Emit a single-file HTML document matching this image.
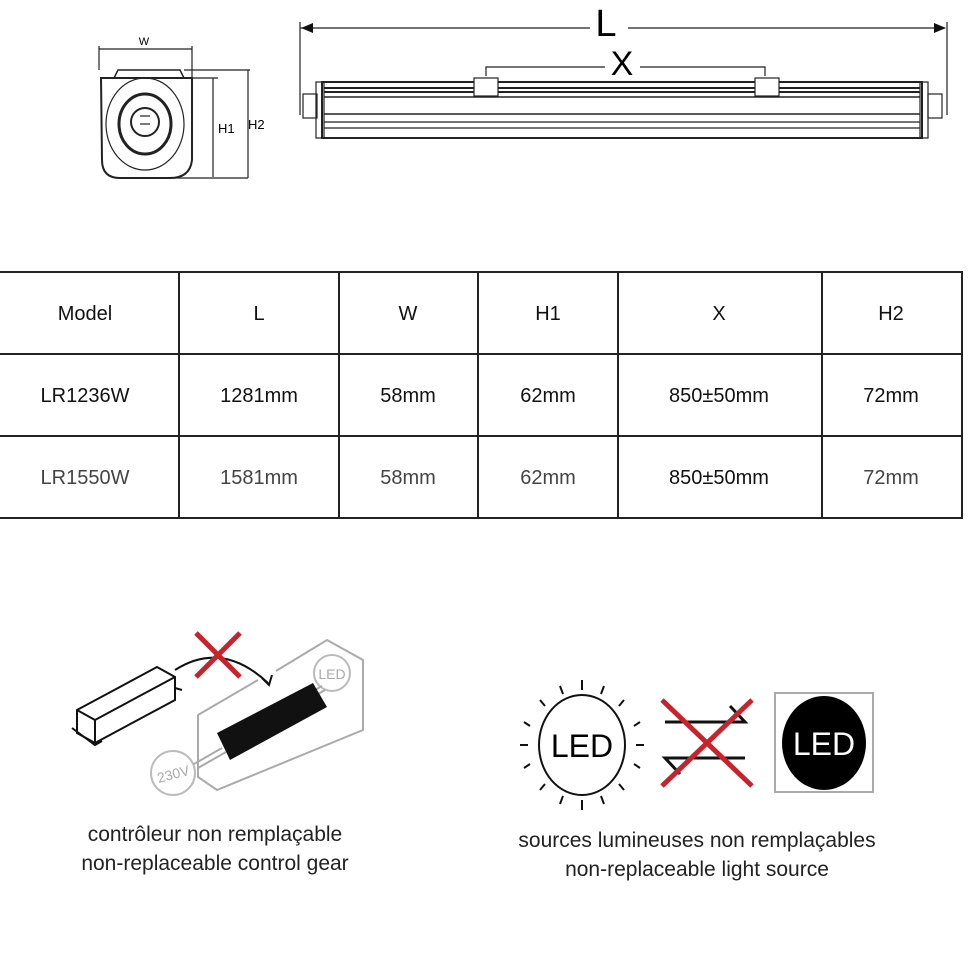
<!DOCTYPE html>
<html><head><meta charset="utf-8"><style>
body{margin:0;background:#fff}
svg{display:block}
text{font-family:"Liberation Sans",sans-serif}
</style></head><body>
<svg width="970" height="971" viewBox="0 0 970 971">
<g fill="none" stroke="#222" stroke-width="1.2">
 <!-- end view -->
 <line x1="99" y1="49" x2="192" y2="49"/><line x1="99" y1="46" x2="99" y2="70"/><line x1="192" y1="46" x2="192" y2="78"/>
 <path d="M101 78 H192 V160 Q190 178 170 178 H120 Q102 178 102 160 Z" stroke-width="2"/>
 <path d="M118 70 H180 L184 78 H114 Z" stroke-width="1.5"/>
 <ellipse cx="145" cy="124" rx="39" ry="46"/>
 <ellipse cx="145" cy="124" rx="26" ry="30" stroke-width="3"/>
 <circle cx="145" cy="122" r="14" stroke-width="2"/>
 <line x1="140" y1="116" x2="150" y2="116"/><line x1="140" y1="124" x2="150" y2="124"/>
 <line x1="184" y1="70" x2="250" y2="70"/><line x1="184" y1="78" x2="218" y2="78"/>
 <line x1="213" y1="78" x2="213" y2="177"/><line x1="248" y1="70" x2="248" y2="178"/>
 <line x1="170" y1="178" x2="248" y2="178"/>
 <!-- long view -->
 <line x1="300" y1="28" x2="590" y2="28"/><line x1="628" y1="28" x2="945" y2="28"/>
 <line x1="300" y1="22" x2="300" y2="115"/><line x1="947" y1="22" x2="947" y2="115"/>
 <rect x="322" y="82" width="600" height="56" stroke-width="2"/>
 <rect x="316" y="82" width="8" height="56"/><rect x="920" y="82" width="8" height="56"/>
 <rect x="303" y="94" width="14" height="24"/><rect x="928" y="94" width="14" height="24"/>
 <line x1="324" y1="88" x2="920" y2="88" stroke-width="2"/>
 <line x1="324" y1="92" x2="920" y2="92" stroke-width="2"/>
 <line x1="324" y1="97" x2="920" y2="97" stroke-width="1.5"/>
 <line x1="324" y1="114" x2="920" y2="114" stroke-width="1.5"/>
 <line x1="324" y1="122" x2="920" y2="122"/>
 <line x1="324" y1="128" x2="920" y2="128"/>
 <rect x="474" y="78" width="24" height="18" fill="#fff"/>
 <rect x="755" y="78" width="24" height="18" fill="#fff"/>
 <path d="M486 76 V67 H605 M640 67 H765 V76"/>
</g>
<path d="M301 28 L313 23 V33 Z M946 28 L934 23 V33 Z" fill="#111"/>
<text x="606" y="36" font-size="38" text-anchor="middle">L</text>
<text x="622" y="75" font-size="34" text-anchor="middle">X</text>
<text x="144" y="45" font-size="11" text-anchor="middle">W</text>
<text x="218" y="133" font-size="13">H1</text>
<text x="248" y="129" font-size="13">H2</text>
<!-- table -->
<g stroke="#222" stroke-width="2" fill="none">
 <rect x="-2" y="272" width="964" height="246"/>
 <line x1="0" y1="354" x2="962" y2="354"/><line x1="0" y1="436" x2="962" y2="436"/>
 <line x1="179" y1="272" x2="179" y2="518"/><line x1="339" y1="272" x2="339" y2="518"/>
 <line x1="478" y1="272" x2="478" y2="518"/><line x1="618" y1="272" x2="618" y2="518"/>
 <line x1="822" y1="272" x2="822" y2="518"/>
</g>
<g font-size="20" text-anchor="middle" fill="#111">
 <text x="85" y="320">Model</text><text x="259" y="320">L</text><text x="408" y="320">W</text><text x="548" y="320">H1</text><text x="719" y="320">X</text><text x="891" y="320">H2</text>
 <text x="85" y="402">LR1236W</text><text x="259" y="402">1281mm</text><text x="408" y="402">58mm</text><text x="548" y="402">62mm</text><text x="719" y="402">850±50mm</text><text x="891" y="402">72mm</text>
</g>
<g font-size="20" text-anchor="middle" fill="#444">
 <text x="85" y="484">LR1550W</text><text x="259" y="484">1581mm</text><text x="408" y="484">58mm</text><text x="548" y="484">62mm</text><text x="719" y="484" fill="#111">850±50mm</text><text x="891" y="484">72mm</text>
</g>
<!-- control gear icon -->
<g fill="none" stroke-width="2">
 <path d="M276 671 L327 640 L363 660 V730 L217 790 L198 777 V715 L258 680" stroke="#aaa"/>
 <circle cx="332" cy="673" r="18" stroke="#bbb" fill="#fff"/>
 <circle cx="173" cy="773" r="22" stroke="#bbb" fill="#fff"/>
 <path d="M194 764 L222 748 M198 768 L226 752" stroke="#aaa"/>
 <path d="M315 690 L322 686 M318 694 L325 690" stroke="#aaa"/>
 <path d="M77 710 L157 667 L175 677 V700 L95 743 L77 733 Z M77 710 L95 720 L175 677 M95 720 V743" stroke="#111"/>
 <path d="M72 728 L95 745 L102 741 M175 688 L182 690" stroke="#111"/>
 <path d="M175 670 Q222 640 268 683" stroke="#111"/>
 <path d="M262 678 L269 685 L272 675" stroke="#111"/>
 <path d="M196 633 L240 677 M240 633 L196 677" stroke="#c8232c" stroke-width="5"/>
</g>
<path d="M217 733 L313 683 L327 707 L230 760 Z" fill="#111"/>
<text x="332" y="679" font-size="14" fill="#aaa" text-anchor="middle">LED</text>
<text x="173" y="779" font-size="14" fill="#aaa" text-anchor="middle" transform="rotate(-15 173 773)">230V</text>
<!-- LED icons -->
<g stroke="#111" stroke-width="2" fill="none">
 <ellipse cx="582" cy="745" rx="43" ry="50"/>
 <path d="M582 680 V690 M582 800 V810 M520 745 H528 M636 745 H644 M540 700 L545 706 M624 700 L619 706 M540 790 L545 784 M624 790 L619 784 M560 686 L563 694 M604 686 L601 694 M560 804 L563 796 M604 804 L601 796 M524 722 L530 726 M640 722 L634 726 M524 768 L530 764 M640 768 L634 764"/>
 <path d="M665 722 H745 L730 706 M745 758 H665 L680 774" stroke-width="3"/>
 <rect x="775" y="693" width="98" height="99" stroke="#aaa" stroke-width="2"/>
</g>
<path d="M662 700 L752 786 M752 700 L662 786" stroke="#c8232c" stroke-width="5"/>
<ellipse cx="824" cy="743" rx="42" ry="47" fill="#000"/>
<text x="582" y="757" font-size="32" text-anchor="middle">LED</text>
<text x="824" y="755" font-size="32" fill="#fff" text-anchor="middle">LED</text>
<g font-size="21" text-anchor="middle" fill="#222">
 <text x="215" y="841">contrôleur non remplaçable</text>
 <text x="215" y="870">non-replaceable control gear</text>
 <text x="697" y="847">sources lumineuses non remplaçables</text>
 <text x="697" y="876">non-replaceable light source</text>
</g>
</svg>
</body></html>
